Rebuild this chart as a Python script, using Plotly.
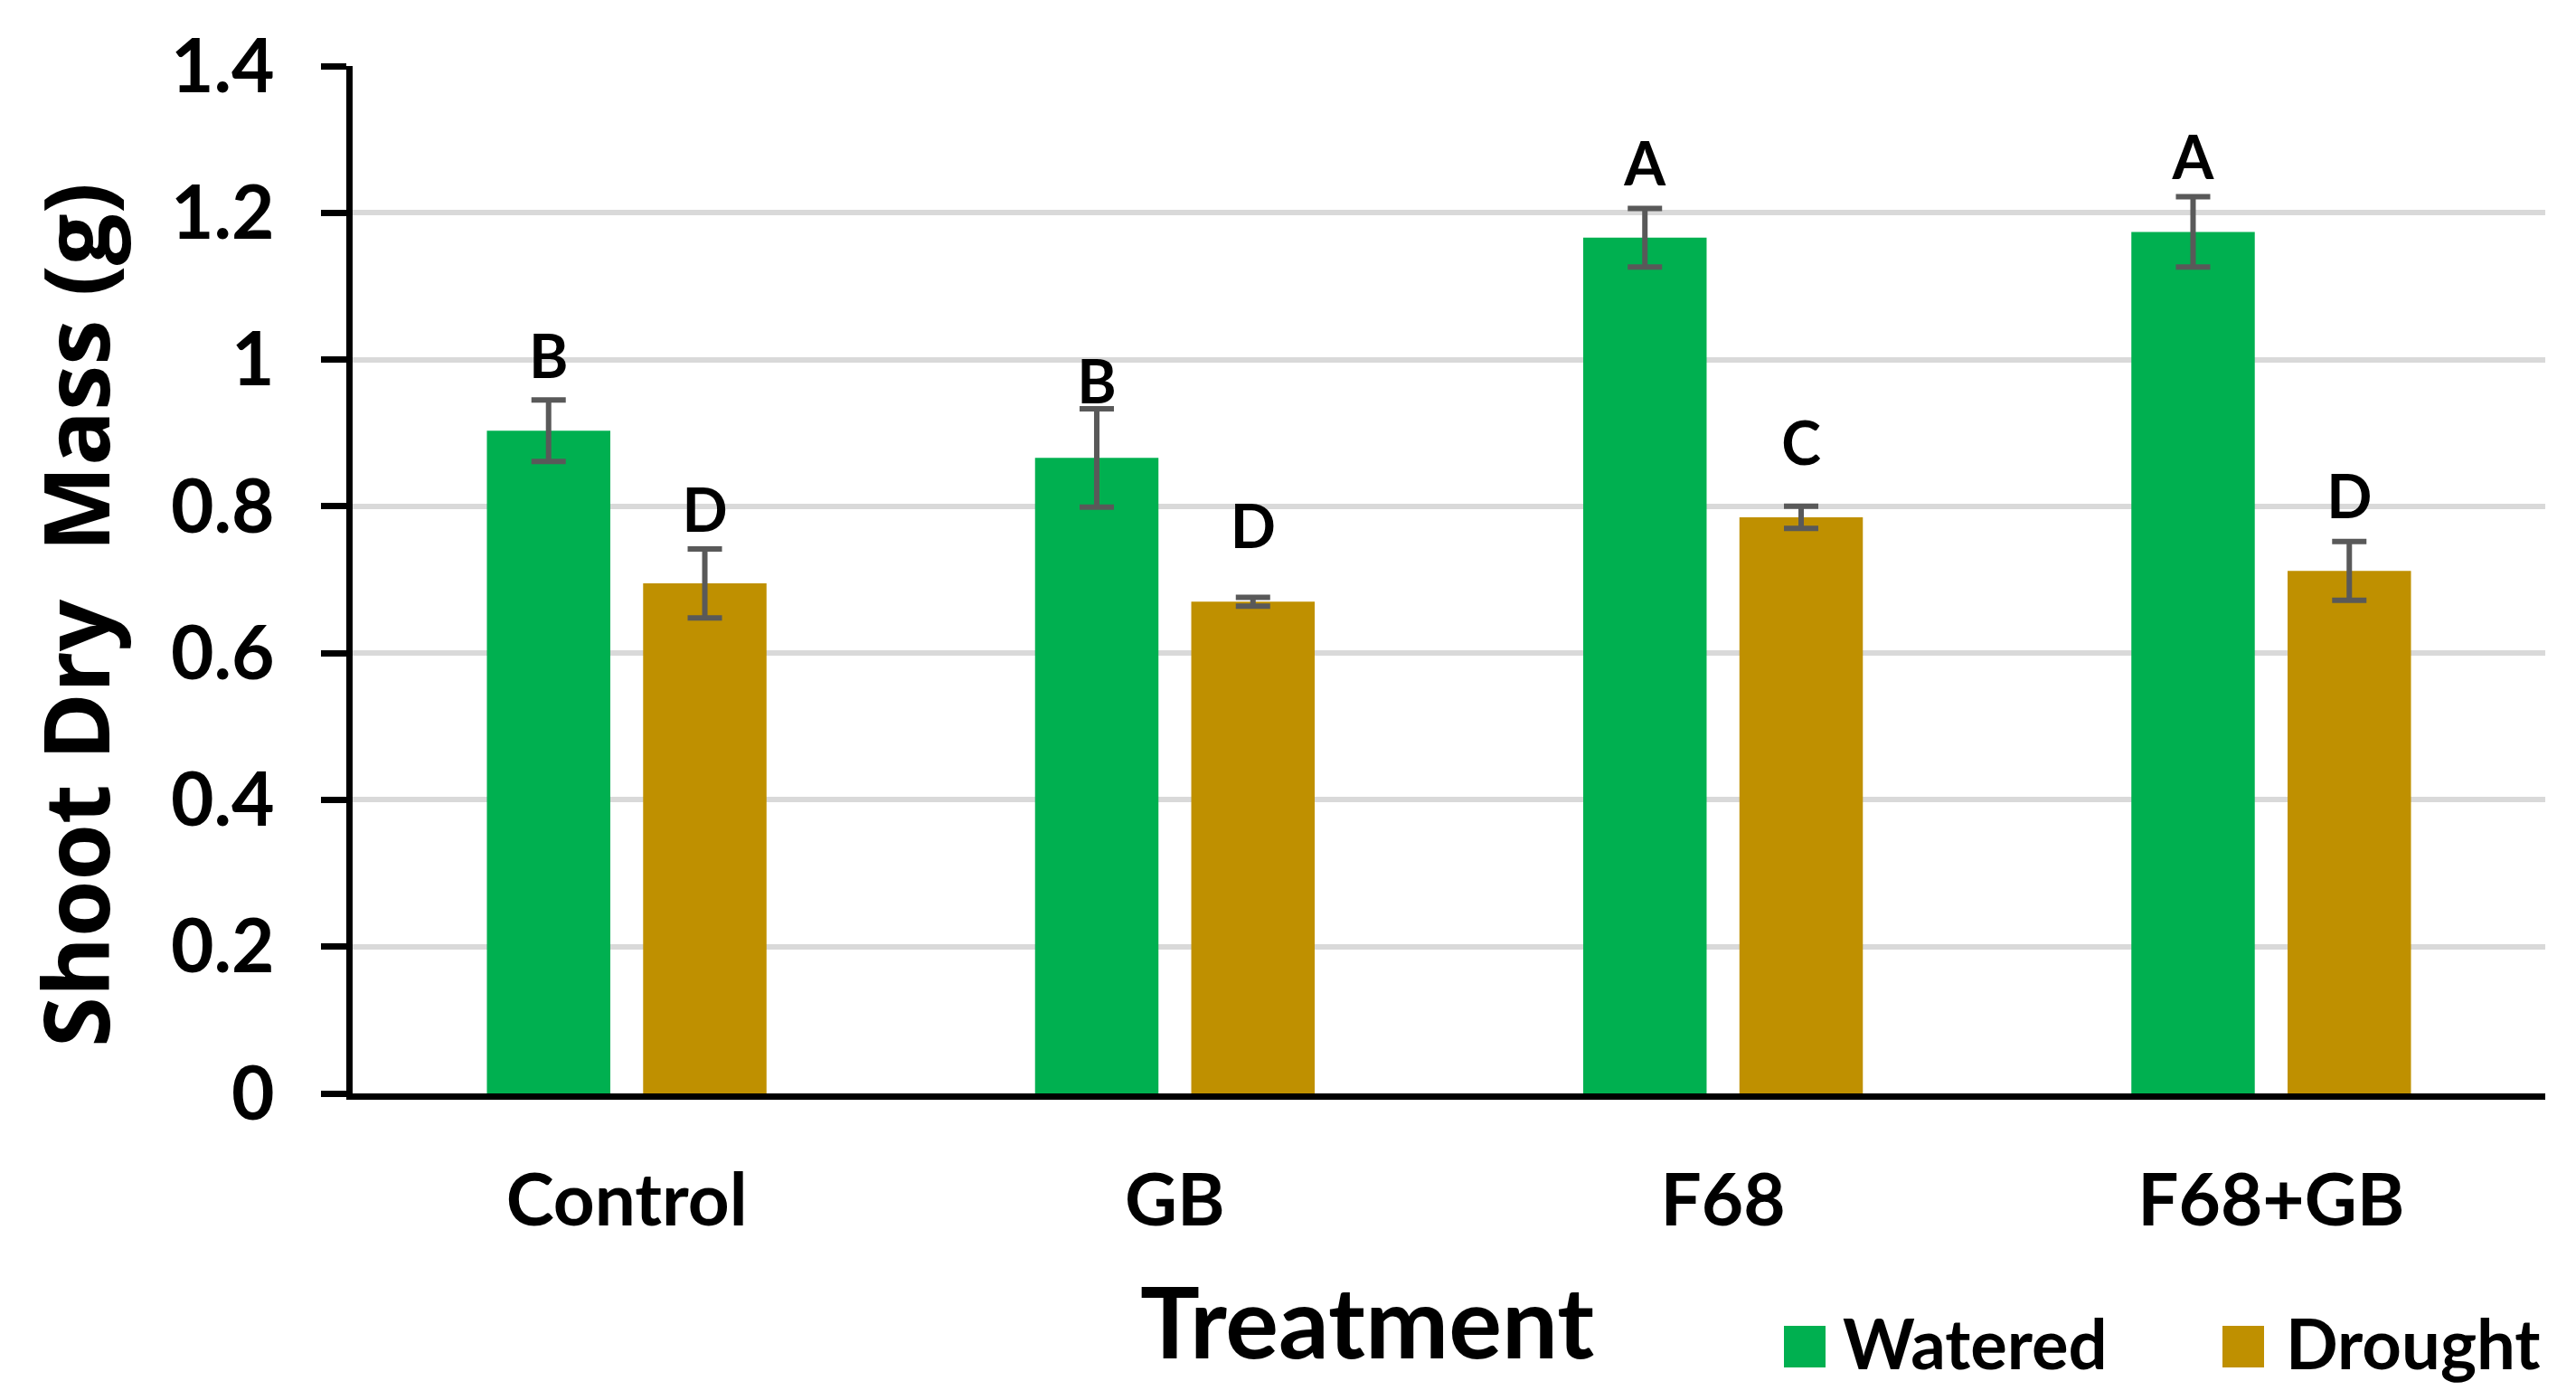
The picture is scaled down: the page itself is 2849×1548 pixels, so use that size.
import plotly.graph_objects as go

# ---- data ----
treatments = ["Control", "GB", "F68", "F68+GB"]
series_names = ["Watered", "Drought"]
watered = [0.903, 0.866, 1.166, 1.174]
watered_err = [0.042, 0.067, 0.040, 0.048]
drought = [0.695, 0.670, 0.785, 0.712]
drought_err = [0.047, 0.006, 0.015, 0.040]
watered_letters = ["B", "B", "A", "A"]
drought_letters = ["D", "D", "C", "D"]
watered_letter_y = [0.995, 0.961, 1.258, 1.266]
drought_letter_y = [0.786, 0.763, 0.877, 0.804]
y_ticks = [0, 0.2, 0.4, 0.6, 0.8, 1.0, 1.2, 1.4]
y_tick_text = ["0", "0.2", "0.4", "0.6", "0.8", "1", "1.2", "1.4"]

GREEN = "#00B050"
GOLD = "#BF9000"
ERR = "#595959"
FONT = "Lato"

fig = go.Figure()
for name, vals, errs, color, grp in [
    (series_names[0], watered, watered_err, GREEN, "w"),
    (series_names[1], drought, drought_err, GOLD, "d"),
]:
    fig.add_trace(go.Bar(
        name=name, x=treatments, y=vals, marker=dict(color=color, line=dict(width=0)),
        offsetgroup=grp, alignmentgroup="a", showlegend=False,
        error_y=dict(type="data", array=errs, visible=True, color=ERR, thickness=6, width=19),
    ))

for letters, ly, grp in [
    (watered_letters, watered_letter_y, "w"),
    (drought_letters, drought_letter_y, "d"),
]:
    fig.add_trace(go.Scatter(
        x=treatments, y=ly, mode="text", text=letters, textposition="middle center",
        textfont=dict(family=FONT, size=66, color="black", weight="bold"),
        offsetgroup=grp, alignmentgroup="a", showlegend=False, cliponaxis=False,
        hoverinfo="skip",
    ))

# page body has an 8px margin; size the figure so the plot lands where the reference has it
PAGE_OFF = 8
W, H = 2849 - PAGE_OFF, 1548 - PAGE_OFF
L, R, T, B = 390 - PAGE_OFF, 34, 73 - PAGE_OFF, 339
pw, ph = W - L - R, H - T - B

def px(xp):
    return (xp - PAGE_OFF - L) / pw

def py(yp):
    return (H - B - (yp - PAGE_OFF)) / ph

fig.update_layout(
    width=W, height=H,
    margin=dict(l=L, r=R, t=T, b=B),
    paper_bgcolor="white", plot_bgcolor="white",
    barmode="group", scattermode="group",
    bargap=0.43, bargroupgap=0.21, scattergap=0.43,
    font=dict(family=FONT, color="black", weight="bold"),
    showlegend=False,
)
fig.update_yaxes(
    range=[0, 1.4], tickvals=y_ticks, ticktext=y_tick_text,
    showgrid=True, gridcolor="#D9D9D9", gridwidth=6,
    showline=True, linecolor="black", linewidth=7,
    ticks="outside", ticklen=28, tickwidth=7, tickcolor="black",
    tickfont=dict(family=FONT, size=82, color="black", weight="bold"),
    ticklabelstandoff=35, zeroline=False,
)
fig.update_xaxes(
    showline=True, linecolor="black", linewidth=7, ticks="",
    tickfont=dict(family=FONT, size=80, color="black", weight="bold"),
    ticklabelstandoff=43, showgrid=False,
)

annotations = [
    dict(text="Treatment", xref="paper", yref="paper", x=px(1512), y=py(1459),
         xanchor="center", yanchor="middle", showarrow=False,
         font=dict(family=FONT, size=110, color="black", weight="bold")),
    dict(text="Shoot Dry  Mass (g)", xref="paper", yref="paper", x=px(82), y=py(680),
         xanchor="center", yanchor="middle", showarrow=False, textangle=-90,
         font=dict(family="Open Sans", size=101, color="black", weight="bold")),
]
legend_items = [(series_names[0], GREEN, 1973, 2036), (series_names[1], GOLD, 2458, 2526)]
shapes = []
for name, color, sx, tx in legend_items:
    shapes.append(dict(type="rect", xref="paper", yref="paper",
                       x0=px(sx), x1=px(sx + 46), y0=py(1512), y1=py(1466),
                       fillcolor=color, line=dict(width=0)))
    annotations.append(dict(text=name, xref="paper", yref="paper", x=px(tx), y=py(1484),
                            xanchor="left", yanchor="middle", showarrow=False,
                            font=dict(family=FONT, size=76, color="black", weight="bold")))
fig.update_layout(annotations=annotations, shapes=shapes)

fig.write_html("out.html")
